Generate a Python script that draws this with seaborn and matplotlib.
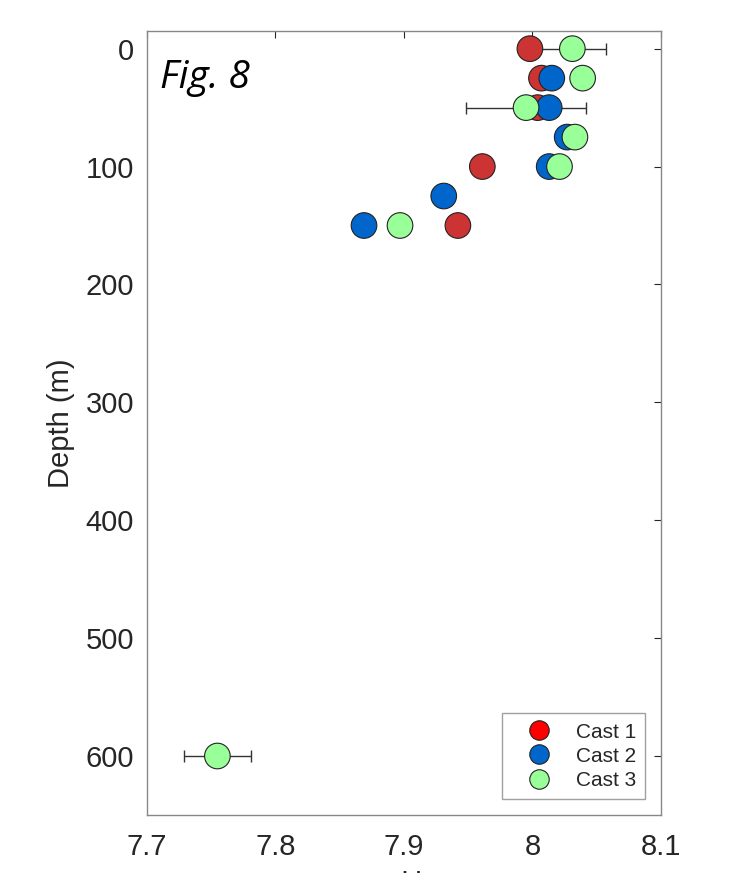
import numpy as np
import pandas as pd
import matplotlib
matplotlib.use('Agg')
import matplotlib.pyplot as plt
from matplotlib.lines import Line2D
import seaborn as sns

# data: pH vs depth for three casts
cast1_ph = [7.998, 8.007, 8.004, 7.961, 7.942]
cast1_depth = [0, 25, 50, 100, 150]
cast2_ph = [8.015, 8.013, 8.027, 8.013, 7.931, 7.869]
cast2_depth = [25, 50, 75, 100, 125, 150]
cast3_ph = [8.031, 8.039, 7.995, 8.033, 8.021, 7.897, 7.755]
cast3_depth = [0, 25, 50, 75, 100, 150, 600]
# error bars (only on some cast 3 points)
err_ph = [8.031, 7.995, 7.755]
err_depth = [0, 50, 600]
err_x = [0.026, 0.047, 0.026]

casts = ['Cast 1', 'Cast 2', 'Cast 3']
point_colors = ['#CC3333', '#0066CC', '#99FF99']
legend_colors = ['#FF0000', '#0066CC', '#99FF99']

df = pd.DataFrame({
    'pH': cast1_ph + cast2_ph + cast3_ph,
    'depth': cast1_depth + cast2_depth + cast3_depth,
    'cast': ['Cast 1'] * len(cast1_ph) + ['Cast 2'] * len(cast2_ph) + ['Cast 3'] * len(cast3_ph),
})

sns.set_style('white')
plt.rcParams['font.family'] = ['Liberation Sans', 'DejaVu Sans']
plt.rcParams['xtick.direction'] = 'in'
plt.rcParams['ytick.direction'] = 'in'

fig = plt.figure(figsize=(7.37, 8.73), dpi=100)
ax = fig.add_axes([0.199, 0.0665, 0.698, 0.898])

ax.errorbar(err_ph, err_depth, xerr=err_x, fmt='none', ecolor='#333333',
            elinewidth=1, capsize=4, capthick=1, zorder=1)
sns.scatterplot(df, x='pH', y='depth', hue='cast', hue_order=casts,
                palette=point_colors, s=340, edgecolor='#222222', linewidth=0.8,
                legend=False, ax=ax, zorder=2)

ax.set_xlim(7.7, 8.1)
ax.set_ylim(650, -15)
ax.set_xticks([7.7, 7.8, 7.9, 8.0, 8.1], ['7.7', '7.8', '7.9', '8', '8.1'])
ax.set_yticks([0, 100, 200, 300, 400, 500, 600])
ax.tick_params(axis='both', labelsize=21, colors='#262626', length=5, width=0.8,
               top=True, right=True, labelcolor='#262626')
ax.tick_params(axis='x', pad=13)
ax.tick_params(axis='y', pad=9)
for sp in ax.spines.values():
    sp.set_color('#888888')
    sp.set_linewidth(1.0)

ax.set_xlabel('pH', fontsize=21, color='#262626', labelpad=6)
ax.set_ylabel('Depth (m)', fontsize=21, color='#262626', labelpad=8)

ax.text(160 / 737, 1 - 88 / 873, 'Fig. 8', transform=fig.transFigure,
        family=['Open Sans', 'DejaVu Sans'], style='italic', fontsize=28,
        color='black', va='baseline', ha='left')

handles = [Line2D([], [], marker='o', linestyle='none', markersize=14,
                  markerfacecolor=c, markeredgecolor='#222222', markeredgewidth=0.8)
           for c in legend_colors]
leg = ax.legend(handles, casts, loc='lower right', fontsize=15, frameon=True,
                fancybox=False, edgecolor='#888888', borderaxespad=0.75,
                handlelength=2.65, handletextpad=0.45, labelspacing=0.25,
                borderpad=0.45)
leg.get_frame().set_linewidth(1.0)

fig.savefig('out.png', dpi=100)
